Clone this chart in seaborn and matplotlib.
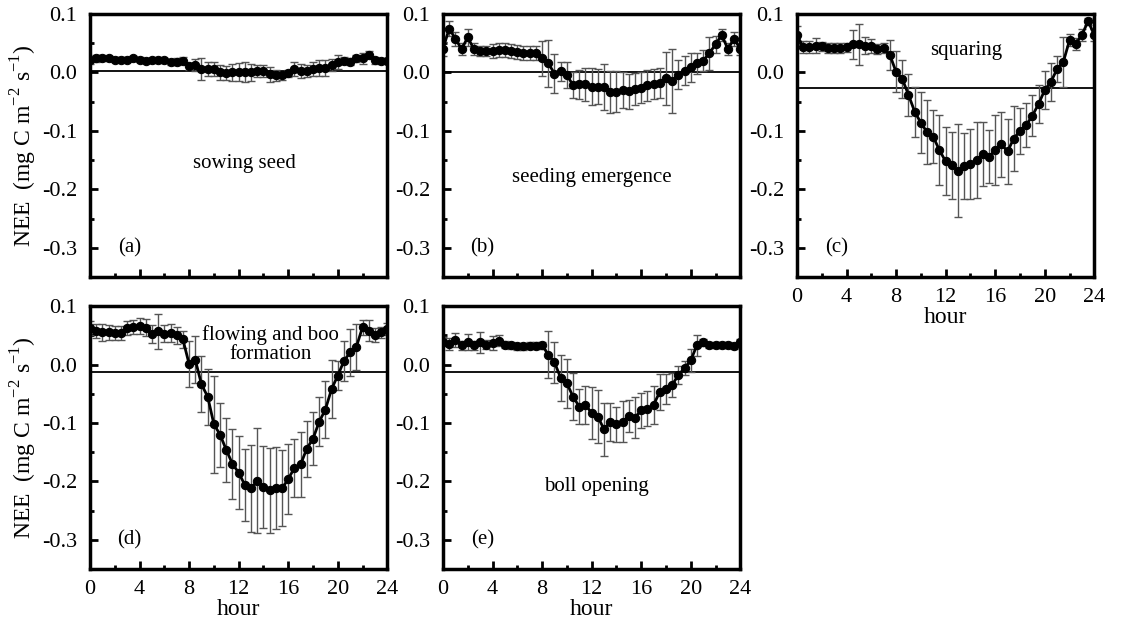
import numpy as np
import matplotlib
matplotlib.use("Agg")
import matplotlib.pyplot as plt
from matplotlib.ticker import MultipleLocator
import seaborn as sns

# half-hourly diurnal NEE, 0..24 h
hours = np.arange(0, 24.5, 0.5)

nee_a = [0.021, 0.024, 0.025, 0.024, 0.022, 0.022, 0.022, 0.024, 0.022, 0.020,
         0.021, 0.022, 0.021, 0.018, 0.018, 0.020, 0.011, 0.013, 0.006, 0.006,
         0.006, 0.000, -0.001, 0.000, 0.001, 0.001, 0.000, 0.002, 0.003, -0.003,
         -0.005, -0.005, -0.001, 0.006, 0.003, 0.003, 0.006, 0.008, 0.008, 0.013,
         0.018, 0.020, 0.018, 0.024, 0.024, 0.030, 0.021, 0.020, 0.020]
err_a = [0.006, 0.006, 0.005, 0.005, 0.004, 0.004, 0.004, 0.004, 0.004, 0.004,
         0.004, 0.004, 0.004, 0.005, 0.006, 0.006, 0.006, 0.010, 0.018, 0.012,
         0.012, 0.013, 0.012, 0.014, 0.016, 0.017, 0.014, 0.010, 0.010, 0.013,
         0.009, 0.007, 0.006, 0.012, 0.012, 0.010, 0.012, 0.014, 0.014, 0.010,
         0.012, 0.006, 0.006, 0.006, 0.010, 0.006, 0.006, 0.004, 0.004]

nee_b = [0.040, 0.075, 0.058, 0.040, 0.060, 0.040, 0.037, 0.037, 0.036, 0.039,
         0.038, 0.037, 0.035, 0.034, 0.034, 0.034, 0.024, 0.016, -0.002, 0.002,
         -0.004, -0.022, -0.020, -0.020, -0.024, -0.024, -0.025, -0.033, -0.033, -0.030,
         -0.032, -0.028, -0.026, -0.022, -0.020, -0.018, -0.010, -0.015, -0.004, 0.003,
         0.009, 0.016, 0.020, 0.033, 0.048, 0.064, 0.040, 0.058, 0.040]
err_b = [0.012, 0.013, 0.012, 0.010, 0.015, 0.010, 0.008, 0.008, 0.012, 0.012,
         0.012, 0.012, 0.012, 0.012, 0.012, 0.012, 0.030, 0.040, 0.033, 0.016,
         0.022, 0.022, 0.025, 0.028, 0.032, 0.030, 0.040, 0.036, 0.035, 0.030,
         0.030, 0.027, 0.026, 0.026, 0.026, 0.026, 0.045, 0.055, 0.025, 0.025,
         0.025, 0.018, 0.018, 0.028, 0.015, 0.010, 0.010, 0.012, 0.010]

nee_c = [0.064, 0.044, 0.044, 0.046, 0.045, 0.042, 0.042, 0.042, 0.043, 0.048,
         0.048, 0.046, 0.045, 0.040, 0.042, 0.030, 0.001, -0.011, -0.038, -0.067,
         -0.086, -0.102, -0.110, -0.133, -0.152, -0.159, -0.168, -0.160, -0.156, -0.149,
         -0.140, -0.144, -0.133, -0.123, -0.135, -0.113, -0.100, -0.090, -0.074, -0.054,
         -0.030, -0.016, 0.006, 0.018, 0.055, 0.049, 0.064, 0.088, 0.064]
err_c = [0.015, 0.010, 0.010, 0.013, 0.008, 0.008, 0.008, 0.008, 0.008, 0.025,
         0.035, 0.015, 0.012, 0.008, 0.008, 0.025, 0.035, 0.033, 0.036, 0.043,
         0.052, 0.055, 0.045, 0.060, 0.058, 0.058, 0.080, 0.056, 0.060, 0.065,
         0.055, 0.045, 0.060, 0.055, 0.055, 0.055, 0.040, 0.037, 0.035, 0.032,
         0.033, 0.032, 0.022, 0.043, 0.010, 0.010, 0.010, 0.006, 0.010]

nee_d = [0.062, 0.057, 0.055, 0.055, 0.054, 0.054, 0.062, 0.064, 0.066, 0.063,
         0.052, 0.057, 0.053, 0.054, 0.050, 0.043, 0.001, 0.008, -0.034, -0.055,
         -0.102, -0.120, -0.146, -0.170, -0.185, -0.206, -0.212, -0.199, -0.210, -0.215,
         -0.211, -0.212, -0.196, -0.177, -0.171, -0.144, -0.127, -0.098, -0.077, -0.042,
         -0.019, 0.006, 0.021, 0.030, 0.064, 0.058, 0.050, 0.055, 0.061]
err_d = [0.012, 0.012, 0.015, 0.013, 0.012, 0.012, 0.012, 0.012, 0.013, 0.015,
         0.015, 0.030, 0.015, 0.015, 0.015, 0.015, 0.040, 0.040, 0.048, 0.048,
         0.083, 0.055, 0.055, 0.060, 0.062, 0.062, 0.075, 0.090, 0.070, 0.073,
         0.070, 0.065, 0.060, 0.050, 0.055, 0.048, 0.045, 0.042, 0.048, 0.050,
         0.025, 0.035, 0.040, 0.040, 0.013, 0.018, 0.012, 0.010, 0.010]

nee_e = [0.039, 0.035, 0.042, 0.033, 0.038, 0.033, 0.038, 0.034, 0.036, 0.041,
         0.034, 0.033, 0.031, 0.031, 0.032, 0.032, 0.033, 0.017, 0.004, -0.023,
         -0.032, -0.055, -0.072, -0.069, -0.083, -0.089, -0.111, -0.098, -0.102, -0.098,
         -0.088, -0.091, -0.078, -0.076, -0.069, -0.047, -0.042, -0.035, -0.018, -0.006,
         0.007, 0.033, 0.038, 0.033, 0.034, 0.034, 0.034, 0.032, 0.038]
err_e = [0.008, 0.010, 0.012, 0.008, 0.014, 0.008, 0.018, 0.008, 0.012, 0.010,
         0.006, 0.006, 0.006, 0.006, 0.006, 0.006, 0.006, 0.040, 0.035, 0.040,
         0.042, 0.040, 0.030, 0.032, 0.045, 0.045, 0.045, 0.033, 0.030, 0.035,
         0.028, 0.035, 0.030, 0.030, 0.033, 0.030, 0.025, 0.020, 0.015, 0.012,
         0.020, 0.018, 0.006, 0.005, 0.005, 0.005, 0.005, 0.005, 0.005]

panel_tags = ["(a)", "(b)", "(c)", "(d)", "(e)"]
stage_names = ["sowing seed", "seeding emergence", "squaring",
               "flowing and boo\nformation", "boll opening"]
ref_levels = [0.003, 0.0, -0.027, -0.012, -0.012]
# where the stage name sits (hour, NEE)
name_pos = [(12.5, -0.155), (12.0, -0.179), (13.7, 0.038), (14.6, 0.035), (12.4, -0.209)]

series = [(nee_a, err_a), (nee_b, err_b), (nee_c, err_c), (nee_d, err_d), (nee_e, err_e)]

sns.set_style("ticks", {"axes.edgecolor": "black", "xtick.color": "black",
                        "ytick.color": "black", "text.color": "black",
                        "axes.labelcolor": "black"})
plt.rcParams["font.family"] = ["Liberation Serif", "DejaVu Serif"]
plt.rcParams["mathtext.fontset"] = "custom"
plt.rcParams["mathtext.rm"] = "Liberation Serif"

fig = plt.figure(figsize=(11.22, 6.24), dpi=100)
lefts = [0.0802, 0.3948, 0.7103, 0.0802, 0.3948]
bottoms = [0.556, 0.556, 0.556, 0.088, 0.088]
w, h = 0.265, 0.4215

for i, ((y, e), tag, name, lev, pos) in enumerate(
        zip(series, panel_tags, stage_names, ref_levels, name_pos)):
    assert len(y) == len(hours) and len(e) == len(hours)
    ax = fig.add_axes([lefts[i], bottoms[i], w, h])
    ax.errorbar(hours, y, yerr=e, fmt="none", ecolor="#555555",
                elinewidth=1.0, capsize=3, capthick=1.0, zorder=2)
    sns.lineplot(x=hours, y=y, ax=ax, color="black", linewidth=2.0,
                 marker="o", markersize=6, markeredgecolor="black", zorder=3)
    ax.axhline(lev, color="black", linewidth=1.3, zorder=1)

    ax.set_xlim(0, 24)
    ax.set_ylim(-0.35, 0.1)
    ax.xaxis.set_major_locator(MultipleLocator(4))
    ax.xaxis.set_minor_locator(MultipleLocator(2))
    ax.yaxis.set_major_locator(MultipleLocator(0.1))
    ax.yaxis.set_minor_locator(MultipleLocator(0.05))
    ax.set_yticks([0.1, 0.0, -0.1, -0.2, -0.3])
    ax.set_yticklabels(["0.1", "0.0", "-0.1", "-0.2", "-0.3"])
    ax.tick_params(which="major", direction="in", length=6, width=2,
                   labelsize=16, colors="black")
    ax.tick_params(axis="y", pad=9)
    ax.tick_params(axis="x", pad=8)
    ax.tick_params(which="minor", direction="in", length=3, width=2,
                   colors="black")
    for sp in ax.spines.values():
        sp.set_linewidth(2.5)
        sp.set_color("black")
        sp.set_visible(True)

    if i in (2, 3, 4):
        ax.set_xlabel("hour", fontsize=17, labelpad=0)
    else:
        ax.tick_params(axis="x", labelbottom=False)
    if i in (0, 3):
        ax.set_ylabel("NEE  (mg C m$^{\\mathrm{-2}}$ s$^{\\mathrm{-1}}$)",
                      fontsize=17, labelpad=2)
    else:
        ax.set_ylabel("")

    ax.text(pos[0], pos[1], name, ha="center", va="center", fontsize=15,
            linespacing=1.0)
    ax.text(3.2, -0.3, tag, ha="center", va="center", fontsize=15)

fig.savefig("out.png", dpi=100)
